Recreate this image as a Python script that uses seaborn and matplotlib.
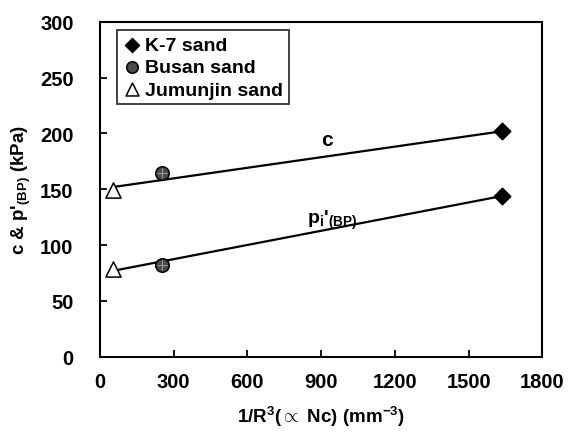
import pandas as pd
import seaborn as sns
import matplotlib.pyplot as plt

# data
sands = ['K-7 sand', 'Busan sand', 'Jumunjin sand']
inv_r3 = [1636, 254, 53]
c_vals = [202, 165, 149]
p_vals = [144, 82, 79]

# fitted lines (end points)
fit_x = [53, 1636]
fit_c = [152, 202]
fit_p = [77, 144]

sns.set_style('ticks')
plt.rcParams['font.family'] = ['Liberation Sans', 'DejaVu Sans']
plt.rcParams['font.weight'] = 'bold'
plt.rcParams['mathtext.fontset'] = 'custom'
plt.rcParams['mathtext.rm'] = 'Liberation Sans:bold'
plt.rcParams['mathtext.it'] = 'Liberation Sans:bold'
plt.rcParams['mathtext.bf'] = 'Liberation Sans:bold'
plt.rcParams['mathtext.default'] = 'rm'
for k in ['text.color', 'axes.labelcolor', 'xtick.color', 'ytick.color']:
    plt.rcParams[k] = 'black'

df = pd.DataFrame({'sand': sands, 'x': inv_r3, 'c': c_vals, 'p': p_vals})
lines = pd.DataFrame({'x': fit_x, 'c': fit_c, 'p': fit_p})

fig = plt.figure(figsize=(5.71, 4.39), dpi=100)
ax = fig.add_axes([0.175, 0.185, 0.775, 0.763])

sns.lineplot(data=lines, x='x', y='c', color='black', lw=1.6, ax=ax)
sns.lineplot(data=lines, x='x', y='p', color='black', lw=1.6, ax=ax)

styles = {
    'K-7 sand': dict(marker='D', s=70, facecolor='black'),
    'Busan sand': dict(marker='o', s=95, facecolor='#4a4a4a'),
    'Jumunjin sand': dict(marker='^', s=120, facecolor='white'),
}
for name in sands:
    sub = df[df['sand'] == name]
    st = styles[name]
    sns.scatterplot(x=sub['x'], y=sub['c'], marker=st['marker'], s=st['s'],
                    color=st['facecolor'], edgecolor='black',
                    linewidth=1.1, ax=ax, label=name, zorder=3)
    sns.scatterplot(x=sub['x'], y=sub['p'], marker=st['marker'], s=st['s'],
                    color=st['facecolor'], edgecolor='black',
                    linewidth=1.1, ax=ax, zorder=3)

# grid texture on the Busan markers
bus = df[df['sand'] == 'Busan sand']
for col in ['c', 'p']:
    ax.scatter(bus['x'], bus[col], marker='+', s=45, color='#9a9a9a', linewidths=0.8, zorder=4)

ax.set_xlim(0, 1800)
ax.set_ylim(0, 300)
ax.set_xticks(range(0, 1801, 300))
ax.set_yticks(range(0, 301, 50))
ax.tick_params(direction='in', length=5, width=1.3, labelsize=14.5)
ax.tick_params(axis='x', pad=11)
ax.tick_params(axis='y', pad=19)
for lab in ax.get_xticklabels() + ax.get_yticklabels():
    lab.set_fontweight('bold')
for sp in ax.spines.values():
    sp.set_visible(True)
    sp.set_linewidth(1.5)
    sp.set_color('black')

ax.set_xlabel(r"1/R$^3$(${\propto}$ Nc) (mm$^{-3}$)", fontsize=13.5, fontweight='bold', labelpad=9)
ax.set_ylabel(r"c & p'$_{(BP)}$ (kPa)", fontsize=13.5, fontweight='bold', labelpad=5)

ax.text(925, 195, 'c', fontsize=15, fontweight='bold', ha='center', va='center')
ax.text(843, 123, r"p$_{i}$'$_{(BP)}$", fontsize=14, fontweight='bold', ha='left', va='center')

leg = ax.legend(loc='upper left', bbox_to_anchor=(0.038, 0.975), frameon=True,
                fancybox=False, edgecolor='black', fontsize=14, handletextpad=0.15,
                handlelength=1.0, borderpad=0.3, labelspacing=0.25, borderaxespad=0,
                markerscale=0.85)
leg.get_frame().set_linewidth(1.3)
for t in leg.get_texts():
    t.set_fontweight('bold')

fig.savefig('out.png', dpi=100)
